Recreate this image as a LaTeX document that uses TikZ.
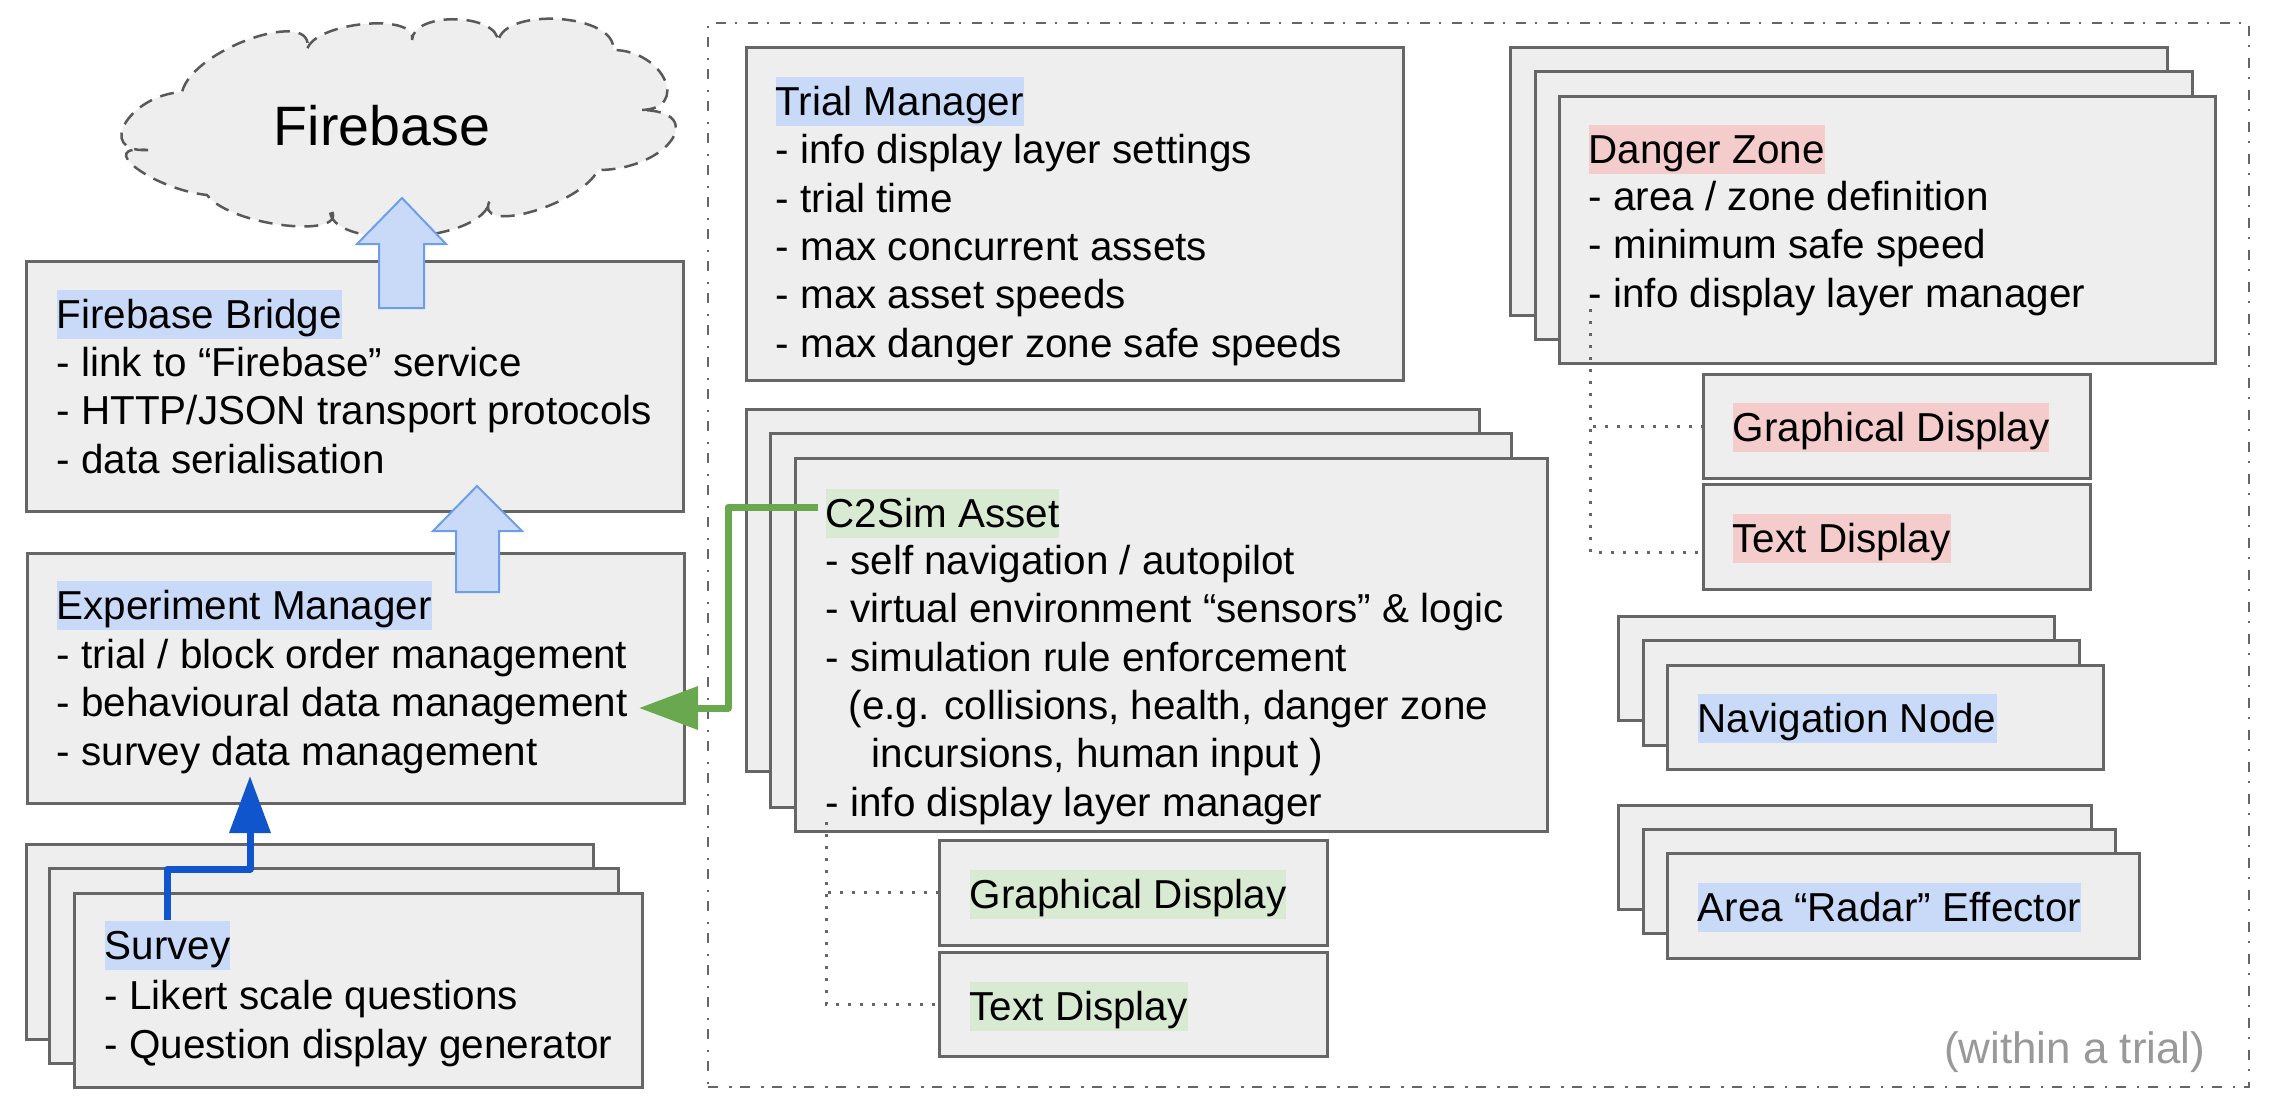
\documentclass[tikz,border=0pt]{standalone}
\usepackage{fontspec}
\setmainfont{Liberation Sans}
\usetikzlibrary{fit,arrows.meta}
\definecolor{boxfill}{HTML}{EEEEEE}
\definecolor{boxline}{HTML}{666666}
\definecolor{hlblue}{HTML}{C9DAF8}
\definecolor{hlgreen}{HTML}{D9EAD3}
\definecolor{hlred}{HTML}{F4CCCC}
\definecolor{arrline}{HTML}{6D9EEB}
\definecolor{darkblue}{HTML}{1155CC}
\definecolor{darkgreen}{HTML}{6AA84F}
\definecolor{cloudline}{HTML}{595959}
\definecolor{notegray}{HTML}{999999}
\newcommand\dfont{\fontsize{11.5pt}{13.74pt}\selectfont}
\begin{document}
\begin{tikzpicture}[x=0.1mm,y=-0.1mm,
  box/.style={draw=boxline, fill=boxfill, line width=0.3mm, inner sep=0pt},
  trialframe/.style={draw=boxline, line width=0.25mm, inner sep=0pt,
    dash pattern=on 1mm off 1.1mm on 0.25mm off 0.85mm},
  ttl/.style={inner sep=0pt, text height=3.8mm, text depth=1.05mm, font=\dfont, anchor=base west},
  bodytext/.style={inner sep=0pt, align=left, font=\dfont, anchor=base west},
  cloudpath/.style={draw=cloudline, fill=boxfill, line width=0.25mm, dash pattern=on 1.4mm off 0.9mm},
  blockarrow/.style={draw=arrline, fill=hlblue, line width=0.2mm, line join=miter},
  bluelink/.style={draw=darkblue, line width=0.7mm, line join=round, -{Triangle[length=5.7mm,width=4mm]}},
  greenlink/.style={draw=darkgreen, line width=0.7mm, line join=round, -{Triangle[length=5.9mm,width=4.2mm]}},
  dotlink/.style={draw=boxline, line width=0.3mm, dash pattern=on 0.3mm off 0.9mm}]
\useasboundingbox (0,0) rectangle (2269,1104);

% trial frame
\node[trialframe, fit={(708,23)(2249,1087)}] (trial) {};
\node[font=\fontsize{12.5pt}{15pt}\selectfont, text=notegray, anchor=base east, inner sep=0pt] (trialnote) at (2206,1063) {(within a trial)};

% cloud
\draw[cloudpath] (148,150) .. controls (95,153) and (129,95) .. (182,92)
 .. controls (193,48) and (318,6) .. (307,50)
 .. controls (313,22) and (418,12) .. (412,40)
 .. controls (413,11) and (499,13) .. (498,42)
 .. controls (503,6) and (618,14) .. (613,50)
 .. controls (664,50) and (691,110) .. (640,110)
 .. controls (710,110) and (668,170) .. (598,170)
 .. controls (580,206) and (472,236) .. (490,200)
 .. controls (485,244) and (325,252) .. (330,208)
 .. controls (354,240) and (231,227) .. (207,195)
 .. controls (152,189) and (93,144) .. (148,150) -- cycle;
\node[font=\fontsize{15.8pt}{19pt}\selectfont, anchor=base, inner sep=0pt] (fbase) at (382,145) {Firebase};

% Firebase Bridge
\node[box, fit={(26,261)(683,511)}] (fbb) {};
\node[ttl, fill=hlblue] (fbbT) at (56,328) {Firebase Bridge};
\node[bodytext] (fbbB) at (56,473) {- link to “Firebase” service\\- HTTP/JSON transport protocols\\- data serialisation};
\draw[blockarrow] (379,308) -- (379,244) -- (357,244) -- (402,198) -- (446,244) -- (424,244) -- (424,308) -- cycle;

% Experiment Manager
\node[box, fit={(27,553)(684,803)}] (em) {};
\node[ttl, fill=hlblue] (emT) at (56,619) {Experiment Manager};
\node[bodytext] (emB) at (56,765) {- trial / block order management\\- behavioural data management\\- survey data management};
\draw[blockarrow] (456,592) -- (456,531) -- (433,531) -- (477,486) -- (522,531) -- (499,531) -- (499,592) -- cycle;

% Survey stack
\node[box, fit={(26,844)(593,1039)}] (sv1) {};
\node[box, fit={(49,868)(618,1063)}] (sv2) {};
\node[box, fit={(74,893)(642,1087)}] (sv3) {};
\node[ttl, fill=hlblue] (svT) at (104,959) {Survey};
\node[bodytext] (svB) at (104,1058) {- Likert scale questions\\- Question display generator};
\coordinate (svbend) at (250,869);
\coordinate (emin) at (250,776);
\draw[bluelink] (svT.north) |- (svbend) -- (emin);

% Trial Manager
\node[box, fit={(746,47)(1403,380)}] (tm) {};
\node[ttl, fill=hlblue] (tmT) at (775,115) {Trial Manager};
\node[bodytext] (tmB) at (775,357) {- info display layer settings\\- trial time\\- max concurrent assets\\- max asset speeds\\- max danger zone safe speeds};

% C2Sim Asset stack
\node[box, fit={(746,409)(1479,771)}] (c21) {};
\node[box, fit={(770,433)(1511,807)}] (c22) {};
\node[box, fit={(795,458)(1547,831)}] (c23) {};
\node[ttl, fill=hlgreen] (c2T) at (825,527) {C2Sim Asset};
\node[bodytext] (c2B) at (825,816) {- self navigation / autopilot\\- virtual environment “sensors” \& logic\\- simulation rule enforcement\\\hspace*{2.3mm}(e.g. collisions, health, danger zone\\\hspace*{4.6mm}incursions, human input )\\- info display layer manager};
\node[box, fit={(939,840)(1327,945)}] (ggd) {};
\node[ttl, fill=hlgreen] (ggdT) at (969,908) {Graphical Display};
\node[box, fit={(939,952)(1327,1056)}] (gtd) {};
\node[ttl, fill=hlgreen] (gtdT) at (969,1020) {Text Display};
\coordinate (c2dot) at (826,822);
\draw[dotlink] (c2dot) |- (ggd.west);
\draw[dotlink] (c2dot) |- (gtd.west);
\coordinate (gbend) at (728,708);
\coordinate (emg) at (639,708);
\draw[greenlink] ([xshift=-0.7mm,yshift=0.6mm]c2T.west) -| (gbend) -- (emg);

% Danger Zone stack
\node[box, fit={(1510,47)(2167,315)}] (dz1) {};
\node[box, fit={(1535,71)(2192,339)}] (dz2) {};
\node[box, fit={(1559,96)(2215,363)}] (dz3) {};
\node[ttl, fill=hlred] (dzT) at (1588,163) {Danger Zone};
\node[bodytext] (dzB) at (1588,307) {- area / zone definition\\- minimum safe speed\\- info display layer manager};
\node[box, fit={(1703,374)(2090,478)}] (rgd) {};
\node[ttl, fill=hlred] (rgdT) at (1732,441) {Graphical Display};
\node[box, fit={(1703,484)(2090,589)}] (rtd) {};
\node[ttl, fill=hlred] (rtdT) at (1732,552) {Text Display};
\coordinate (dzdot) at (1590,309);
\draw[dotlink] (dzdot) |- (rgd.west);
\draw[dotlink] (dzdot) |- (rtd.west |- rtdT.base);

% Navigation Node stack
\node[box, fit={(1618,616)(2054,720)}] (nv1) {};
\node[box, fit={(1643,640)(2079,745)}] (nv2) {};
\node[box, fit={(1667,665)(2103,769)}] (nv3) {};
\node[ttl, fill=hlblue] (nvT) at (1697,732) {Navigation Node};

% Area Radar Effector stack
\node[box, fit={(1618,805)(2091,909)}] (ar1) {};
\node[box, fit={(1643,829)(2115,933)}] (ar2) {};
\node[box, fit={(1667,853)(2139,958)}] (ar3) {};
\node[ttl, fill=hlblue] (arT) at (1697,921) {Area “Radar” Effector};
\end{tikzpicture}
\end{document}
